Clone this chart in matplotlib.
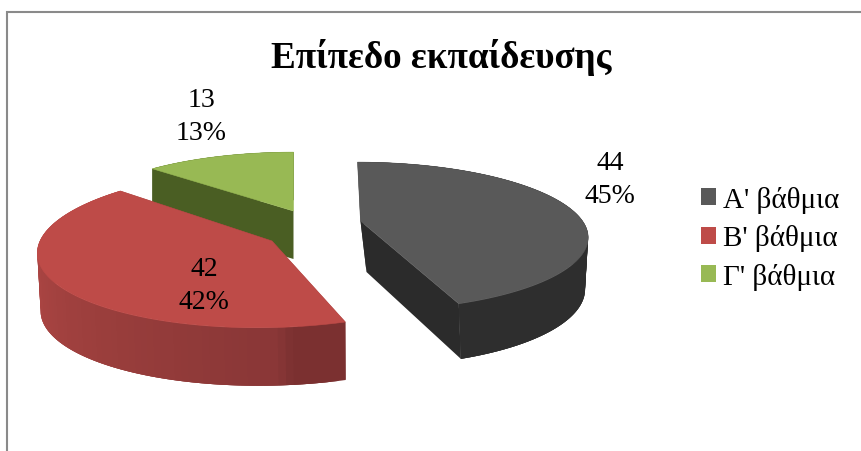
import numpy as np
import matplotlib
matplotlib.use("Agg")
import matplotlib.pyplot as plt
from matplotlib.patches import Patch
from matplotlib.colors import to_rgb

title = "Επίπεδο εκπαίδευσης"
categories = ["Α' βάθμια", "Β' βάθμια", "Γ' βάθμια"]
values = [44, 42, 13]
percents = ["45%", "42%", "13%"]

top_colors = ["#595959", "#BE4B48", "#98B954"]
cut_colors = ["#2B2B2B", "#7A2F2E", "#4A5E23"]
# outer wall shade stops: (clockwise angle in degrees, colour)
wall_stops = [
    [(0, "#2E2E2E"), (360, "#2E2E2E")],
    [(160, "#7B3030"), (172, "#7B3030"), (176, "#8A3737"), (215, "#9A3E3C"), (262, "#AE4644"), (313, "#B34745")],
    [(0, "#4A5E23"), (360, "#4A5E23")],
]
# slice placement in the picture:
# apex x, apex y, rx, shear, bottom dx, dy, sx, sy, ry, perspective
placement = [
    (360.5, 222, 222, 0.05, 6, 51, 0.96, 1.05, 71.0, 0.206),
    (272, 242, 232, -0.17, 1, 58, 0.99, 1.0, 78.5, 0.095),
    (293.5, 212, 219, 0.0, 0, 48, 1.0, 1.0, 71.0, 0.206),
]
draw_order = [2, 1, 0]
label_pos = [(610, 180), (204, 286), (201, 117)]

plt.rcParams["font.family"] = ["Liberation Serif", "DejaVu Serif"]
fig = plt.figure(figsize=(8.62, 4.52), dpi=100)
ax = fig.add_axes([0, 0, 1, 1])
ax.set_xlim(0, 862)
ax.set_ylim(452, 0)
ax.axis("off")


def project(theta, rad, p):
    rx, shear = p[2], p[3]
    ry, persp = p[8], p[9]
    c = np.cos(theta) * rad
    s = np.sin(theta) * rad
    k = 1.0 / (1.0 + persp * c)
    dx = rx * s * k
    dy = -ry * c * k
    return dx + shear * dy, dy


def top_pts(theta, rad, p):
    dx, dy = project(theta, rad, p)
    return p[0] + dx, p[1] + dy


def bot_pts(theta, rad, p):
    dx, dy = project(theta, rad, p)
    return p[0] + p[4] + p[6] * dx, p[1] + p[5] + p[7] * dy


def wall_colour(stops, deg):
    a = [st[0] for st in stops]
    rgb = np.array([to_rgb(st[1]) for st in stops])
    return tuple(np.interp(deg, a, rgb[:, i]) for i in range(3))


# slice angles follow from the values, clockwise from twelve o'clock
edges = np.concatenate([[0], np.cumsum(values)]) / float(sum(values)) * 360.0

for i in draw_order:
    p = placement[i]
    z = 2 + draw_order.index(i)
    t0, t1 = np.radians(edges[i]), np.radians(edges[i + 1])
    th = np.linspace(t0, t1, 90)
    faces = []
    # wall pieces overlap their neighbours so that no seams show
    for j in range(len(th) - 1):
        a, b = th[j], th[min(j + 3, len(th) - 1)]
        sub = np.linspace(a, b, 5)
        xt, yt = top_pts(sub, 1, p)
        xb, yb = bot_pts(sub[::-1], 1, p)
        faces.append((yt.mean(), np.r_[xt, xb], np.r_[yt, yb],
                      wall_colour(wall_stops[i], np.degrees((th[j] + th[j + 1]) / 2))))
    for t in (t0, t1):
        xa, ya = top_pts(t, 0, p)
        xb, yb = top_pts(t, 1, p)
        xc, yc = bot_pts(t, 1, p)
        xd, yd = bot_pts(t, 0, p)
        faces.append((min(ya, yb), [xa, xb, xc, xd], [ya, yb, yc, yd], to_rgb(cut_colors[i])))
    for _, xs, ys, col in sorted(faces, key=lambda f: f[0]):
        ax.fill(xs, ys, facecolor=col, edgecolor="none", lw=0, zorder=z)
    tx, ty = top_pts(th, 1, p)
    ax0, ay0 = top_pts(t0, 0, p)
    ax.fill(np.r_[ax0, tx], np.r_[ay0, ty], color=top_colors[i], lw=0.4, zorder=z + 0.5)

for (x, y), v, pc in zip(label_pos, values, percents):
    ax.text(x, y, f"{v}\n{pc}", ha="center", va="center", fontsize=20,
            linespacing=1.4, color="black", zorder=10)

ax.text(441, 57, title, ha="center", va="center", fontsize=26.7,
        fontweight="bold", color="black", zorder=10)

handles = [Patch(facecolor=c, edgecolor="none", label=l) for c, l in zip(top_colors, categories)]
ax.legend(handles=handles, loc="center left", bbox_to_anchor=(701, 239),
          bbox_transform=ax.transData, frameon=False, fontsize=21,
          handlelength=0.52, handleheight=0.52, handletextpad=0.22,
          labelspacing=0.39, borderpad=0, borderaxespad=0)

ax.plot([7.5, 7.5, 862], [452, 12.5, 12.5], color="#8A8A8A", lw=1.5,
        solid_joinstyle="miter", zorder=1)

fig.savefig("out.png", dpi=100)
